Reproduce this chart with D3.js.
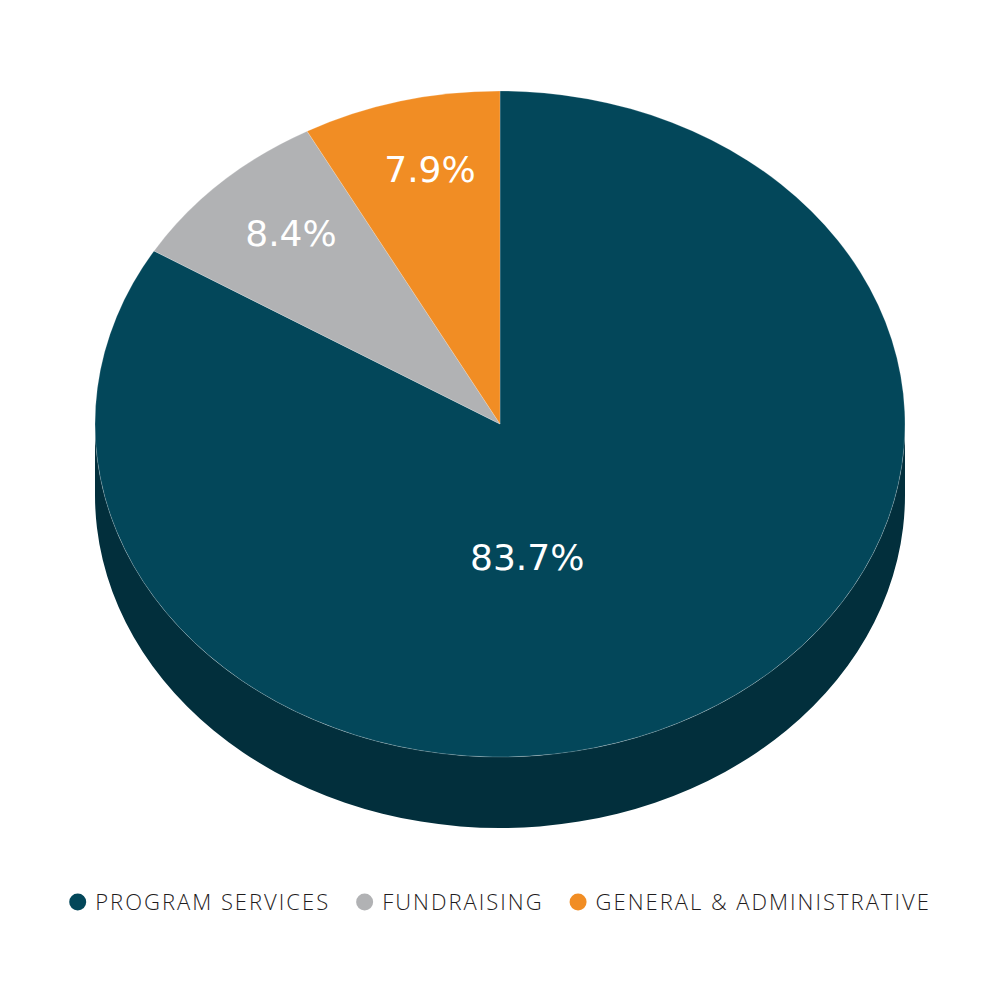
<!DOCTYPE html>
<html>
<head>
<meta charset="utf-8">
<script src="https://cdn.jsdelivr.net/npm/d3@7"></script>
<style>
  html, body { margin: 0; padding: 0; background: #fff; }
</style>
</head>
<body>
<div id="wrapper"></div>
<script>
// the data
const categories = ["PROGRAM SERVICES", "FUNDRAISING", "GENERAL & ADMINISTRATIVE"]
const values = [83.7, 8.4, 7.9]
const labels = ["83.7%", "8.4%", "7.9%"]

// colours for top faces and the darker side wall
const topColors = ["#03475a", "#b1b2b4", "#f18d24"]
const sideColors = ["#022f3c", "#7f8082", "#b8661a"]

// chart layout
const dims = {
  width: 1000,
  height: 1000,
  cx: 500,
  cy: 424,
  rx: 405,
  ry: 333,
  depth: 71,
}
const squash = dims.ry / dims.rx

// label placement: radius and a small angle nudge from the slice middle
const labelRadius = [164, 312, 318]
const labelShift = [19.8, 1.5, 1.5]

const svg = d3.select("#wrapper")
  .append("svg")
    .attr("width", dims.width)
    .attr("height", dims.height)

const pie = d3.pie().sort(null).value(d => d)
const slices = pie(values)

// point on the ellipse for a d3 angle (0 at top, clockwise)
const pt = (a, dy = 0) => [
  dims.cx + dims.rx * Math.sin(a),
  dims.cy - dims.ry * Math.cos(a) + dy,
]

// side wall, only the front half (angles between pi/2 and 3pi/2) shows
const sideGroup = svg.append("g")
slices.forEach((s, i) => {
  const a0 = Math.max(s.startAngle, Math.PI / 2)
  const a1 = Math.min(s.endAngle, Math.PI * 1.5)
  if (a1 <= a0) return
  const p0 = pt(a0), p1 = pt(a1)
  const q0 = pt(a0, dims.depth), q1 = pt(a1, dims.depth)
  const large = (a1 - a0) > Math.PI ? 1 : 0
  const d = `M${p0} A${dims.rx},${dims.ry} 0 ${large} 1 ${p1}` +
    ` L${q1} A${dims.rx},${dims.ry} 0 ${large} 0 ${q0} Z`
  sideGroup.append("path")
    .attr("d", d)
    .attr("fill", sideColors[i])
})

// top face
const arc = d3.arc().innerRadius(0).outerRadius(dims.rx)
const topGroup = svg.append("g")
  .attr("transform", `translate(${dims.cx},${dims.cy}) scale(1,${squash})`)

topGroup.selectAll("path")
  .data(slices)
  .join("path")
    .attr("d", arc)
    .attr("fill", (d, i) => topColors[i])
    .attr("stroke", "rgba(255,255,255,0.35)")
    .attr("stroke-width", 0.6)
    .attr("vector-effect", "non-scaling-stroke")

// percentage labels
const labelAngle = (d, i) => (d.startAngle + d.endAngle) / 2 + labelShift[i] * Math.PI / 180

svg.append("g")
  .selectAll("text")
  .data(slices)
  .join("text")
    .attr("x", (d, i) => dims.cx + labelRadius[i] * Math.sin(labelAngle(d, i)))
    .attr("y", (d, i) => dims.cy - labelRadius[i] * squash * Math.cos(labelAngle(d, i)))
    .attr("dy", "0.36em")
    .attr("text-anchor", "middle")
    .attr("fill", "#ffffff")
    .style("font-family", "'DejaVu Sans', sans-serif")
    .style("font-size", "36px")
    .text((d, i) => labels[i])

// legend, centred under the pie
const legend = svg.append("g")
const legendY = 902
const dotR = 8.5
const items = []
categories.forEach((c, i) => {
  const g = legend.append("g")
  g.append("circle")
    .attr("r", dotR)
    .attr("cx", dotR)
    .attr("cy", 0)
    .attr("fill", topColors[i])
  const t = g.append("text")
    .attr("x", dotR * 2 + 9)
    .attr("y", 0)
    .attr("dy", "0.36em")
    .attr("fill", "#1f1c1d")
    .style("font-family", "'Open Sans', sans-serif")
    .style("font-weight", 300)
    .style("font-size", "22px")
    .style("letter-spacing", "2px")
    .text(c)
  items.push({ g, w: dotR * 2 + 9 + t.node().getComputedTextLength() })
})
const gap = 26
const total = d3.sum(items, d => d.w) + gap * (items.length - 1)
let x = dims.width / 2 - total / 2
items.forEach(d => {
  d.g.attr("transform", `translate(${x},${legendY})`)
  x += d.w + gap
})
</script>
</body>
</html>
